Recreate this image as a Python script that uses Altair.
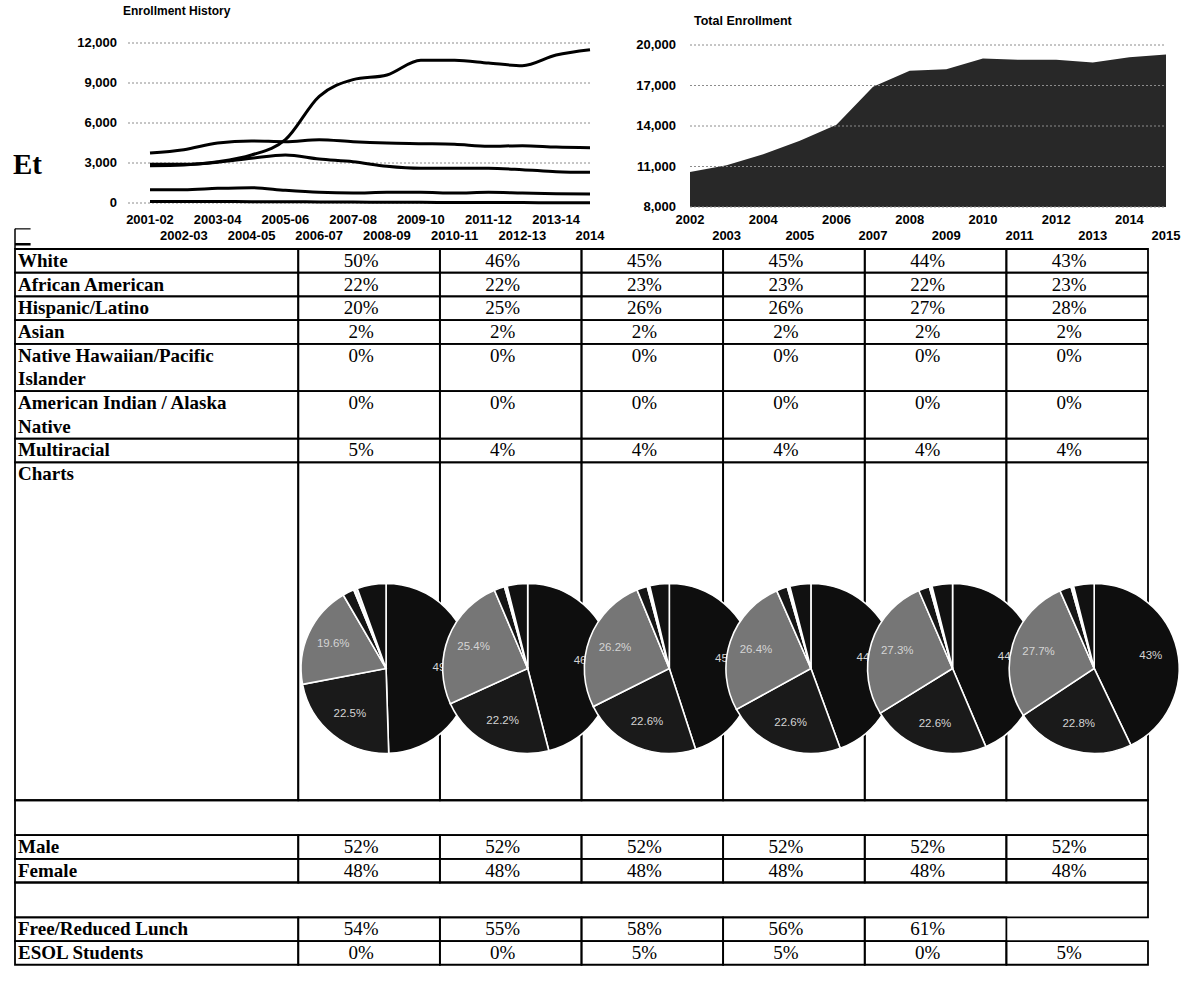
import altair as alt
import pandas as pd

# ------------------------------------------------------------------ data
hist_years = ["2001-02", "2002-03", "2003-04", "2004-05", "2005-06", "2006-07",
              "2007-08", "2008-09", "2009-10", "2010-11", "2011-12", "2012-13",
              "2013-14", "2014"]
hist_series_a = [2900, 2900, 3100, 3600, 4750, 8000, 9250, 9600, 10700, 10700, 10500, 10300, 11100, 11500]
hist_series_b = [3750, 4000, 4500, 4650, 4600, 4750, 4600, 4500, 4450, 4400, 4250, 4300, 4200, 4150]
hist_series_c = [2800, 2850, 3050, 3350, 3600, 3300, 3100, 2750, 2600, 2600, 2600, 2500, 2350, 2300]
hist_series_d = [1000, 1000, 1100, 1150, 950, 800, 750, 800, 800, 750, 800, 750, 700, 680]
hist_series_e = [120, 110, 110, 100, 100, 80, 70, 60, 50, 40, 30, 30, 20, 20]
hist_ticks = [0, 3000, 6000, 9000, 12000]

total_years = [2002, 2003, 2004, 2005, 2006, 2007, 2008, 2009, 2010, 2011, 2012, 2013, 2014, 2015]
total_enrollment = [10600, 11100, 11900, 12900, 14100, 16900, 18100, 18200, 19000, 18900, 18900, 18700, 19100, 19300]
total_ticks = [8000, 11000, 14000, 17000, 20000]

eth_labels = ["White", "African American", "Hispanic/Latino", "Asian",
              "Native Hawaiian/Pacific\nIslander", "American Indian / Alaska\nNative", "Multiracial"]
white_pct = ["50%", "46%", "45%", "45%", "44%", "43%"]
afam_pct = ["22%", "22%", "23%", "23%", "22%", "23%"]
hisp_pct = ["20%", "25%", "26%", "26%", "27%", "28%"]
asian_pct = ["2%", "2%", "2%", "2%", "2%", "2%"]
nhpi_pct = ["0%", "0%", "0%", "0%", "0%", "0%"]
aian_pct = ["0%", "0%", "0%", "0%", "0%", "0%"]
multi_pct = ["5%", "4%", "4%", "4%", "4%", "4%"]
male_pct = ["52%", "52%", "52%", "52%", "52%", "52%"]
female_pct = ["48%", "48%", "48%", "48%", "48%", "48%"]
lunch_pct = ["54%", "55%", "58%", "56%", "61%", ""]
esol_pct = ["0%", "0%", "5%", "5%", "0%", "5%"]

pie_groups = ["White", "African American", "Hispanic/Latino", "Asian",
              "Native Hawaiian/Pacific Islander", "American Indian / Alaska Native", "Multiracial"]
pie_col1 = [49.5, 22.5, 19.6, 2.2, 0.2, 0.5, 5.5]
pie_col2 = [46.0, 22.2, 25.4, 2.0, 0.2, 0.3, 3.9]
pie_col3 = [45.0, 22.6, 26.2, 2.0, 0.2, 0.3, 3.7]
pie_col4 = [44.4, 22.6, 26.4, 2.1, 0.2, 0.3, 4.0]
pie_col5 = [43.6, 22.6, 27.3, 2.1, 0.2, 0.3, 3.9]
pie_col6 = [42.9, 22.8, 27.7, 2.2, 0.2, 0.3, 3.9]
pie_white_labels = ["49%", "46%", "45%", "44%", "44%", "43%"]
pie_afam_labels = ["22.5%", "22.2%", "22.6%", "22.6%", "22.6%", "22.8%"]
pie_hisp_labels = ["19.6%", "25.4%", "26.2%", "26.4%", "27.3%", "27.7%"]

# ------------------------------------------------------------------ layout / style
W, H = 1187, 1000
SANS, SERIF = "Liberation Sans", "Liberation Serif"

H1_XR = [150, 590]
H1_YR = [203, 43]
H1_GRID = (128, 590)
H1_LABEL_X = 117
ROW1_Y, ROW2_Y = 220, 236

T_XR = [690, 1166]
T_YR = [207, 45]
T_LABEL_X = 676

TAB_XR = [15, 1148]      # label column = 2 units, each year column = 1 unit
TAB_TOP = 249
UNIT = 23.7
CHARTS_H = 14.26
BLANK_H = 1.47
PIE_R = 85
PIE_DX = 0.62            # pie centre inside its column (units)
PIE_DY = 0.61            # pie centre inside the charts row (fraction)
TAB_FONT = 19
pie_colors = ["#0e0e0e", "#1a1a1a", "#767676", "#151515", "#e6e6e6", "#e6e6e6", "#111111"]

TXT = dict(font=SANS, fontSize=13, fontWeight="bold", color="black")
GRID = dict(stroke="#8c8c8c", strokeDash=[2, 2], strokeWidth=1)


def lin(domain, rng):
    return alt.Scale(domain=domain, range=rng, nice=False, zero=False)


layers = []

# ------------------------------------------------------------------ Enrollment History
hx = alt.Scale(type="point", domain=hist_years, range=H1_XR, padding=0)
hy = lin([0, 12000], H1_YR)
hist_df = pd.DataFrame({
    "year": hist_years * 5,
    "series": sum([[s] * len(hist_years) for s in "abcde"], []),
    "value": hist_series_a + hist_series_b + hist_series_c + hist_series_d + hist_series_e,
})
tick1 = pd.DataFrame({"tick": hist_ticks})
layers.append(alt.Chart(tick1).mark_rule(**GRID).encode(
    x=alt.value(H1_GRID[0]), x2=alt.value(H1_GRID[1]),
    y=alt.Y("tick:Q", scale=hy, axis=None)))
layers.append(alt.Chart(tick1).mark_text(align="right", baseline="middle", **TXT).encode(
    x=alt.value(H1_LABEL_X), y=alt.Y("tick:Q", scale=hy, axis=None),
    text=alt.Text("tick:Q", format=",")))
layers.append(alt.Chart(hist_df).mark_line(color="black", strokeWidth=3, interpolate="monotone").encode(
    x=alt.X("year:O", scale=hx, axis=None),
    y=alt.Y("value:Q", scale=hy, axis=None),
    detail="series:N"))
yr1 = pd.DataFrame({"year": hist_years, "row": [i % 2 for i in range(len(hist_years))]})
for r, ypos in ((0, ROW1_Y), (1, ROW2_Y)):
    layers.append(alt.Chart(yr1).transform_filter(alt.datum.row == r).mark_text(
        align="center", baseline="middle", **TXT).encode(
        x=alt.X("year:O", scale=hx, axis=None), y=alt.value(ypos), text="year:N"))
layers.append(alt.Chart(pd.DataFrame({"t": ["Enrollment History"]})).mark_text(
    align="left", baseline="middle", font=SANS, fontSize=12, fontWeight="bold").encode(
    x=alt.value(123), y=alt.value(11), text="t:N"))
layers.append(alt.Chart(pd.DataFrame({"t": ["Et"]})).mark_text(
    align="left", baseline="middle", font=SERIF, fontSize=29, fontWeight="bold").encode(
    x=alt.value(13), y=alt.value(165), text="t:N"))

# ------------------------------------------------------------------ Total Enrollment
tx = lin([2002, 2015], T_XR)
ty = lin([8000, 20000], T_YR)
tot_df = pd.DataFrame({"year": total_years, "enroll": total_enrollment})
layers.append(alt.Chart(tot_df).mark_area(color="#282828").encode(
    x=alt.X("year:Q", scale=tx, axis=None),
    y=alt.Y("enroll:Q", scale=ty, axis=None),
    y2=alt.datum(8000)))
tick2 = pd.DataFrame({"tick": total_ticks})
layers.append(alt.Chart(tick2).mark_rule(**GRID).encode(
    x=alt.value(T_XR[0]), x2=alt.value(T_XR[1]),
    y=alt.Y("tick:Q", scale=ty, axis=None)))
layers.append(alt.Chart(tick2).mark_text(align="right", baseline="middle", **TXT).encode(
    x=alt.value(T_LABEL_X), y=alt.Y("tick:Q", scale=ty, axis=None),
    text=alt.Text("tick:Q", format=",")))
yr2 = pd.DataFrame({"year": total_years, "row": [i % 2 for i in range(len(total_years))]})
for r, ypos in ((0, ROW1_Y), (1, ROW2_Y)):
    layers.append(alt.Chart(yr2).transform_filter(alt.datum.row == r).mark_text(
        align="center", baseline="middle", **TXT).encode(
        x=alt.X("year:Q", scale=tx, axis=None), y=alt.value(ypos), text=alt.Text("year:Q", format="d")))
layers.append(alt.Chart(pd.DataFrame({"t": ["Total Enrollment"]})).mark_text(
    align="left", baseline="middle", font=SANS, fontSize=12.5, fontWeight="bold").encode(
    x=alt.value(694), y=alt.value(21), text="t:N"))

# ------------------------------------------------------------------ table
eth_values = [white_pct, afam_pct, hisp_pct, asian_pct, nhpi_pct, aian_pct, multi_pct]
rows = [("data", lab.split("\n"), vals) for lab, vals in zip(eth_labels, eth_values)]
rows += [("charts", ["Charts"], None), ("blank", [], None),
         ("data", ["Male"], male_pct), ("data", ["Female"], female_pct),
         ("blank", [], None),
         ("data", ["Free/Reduced Lunch"], lunch_pct), ("data", ["ESOL Students"], esol_pct)]

cells, labels, values = [], [], []
y = 0.0
charts_top = charts_h = 0.0
for kind, lines, vals in rows:
    h = len(lines) if kind == "data" else (CHARTS_H if kind == "charts" else BLANK_H)
    if kind == "blank":
        cells.append(dict(x0=0, x1=8, y0=y, y1=y + h))
    else:
        cells.append(dict(x0=0, x1=2, y0=y, y1=y + h))
        for i in range(6):
            if vals is not None and vals[i] == "":
                continue
            cells.append(dict(x0=2 + i, x1=3 + i, y0=y, y1=y + h))
        for k, ln in enumerate(lines):
            labels.append(dict(t=ln, x=0, y=y + k + 0.5))
        if vals is not None:
            for i, v in enumerate(vals):
                values.append(dict(t=v, x=2 + i + 0.5, y=y + 0.5))
    if kind == "charts":
        charts_top, charts_h = y, h
    y += h
total_units = y

tabx = lin([0, 8], TAB_XR)
taby = lin([0, total_units], [TAB_TOP, TAB_TOP + total_units * UNIT])
X = lambda f: alt.X(f, scale=tabx, axis=None)
Y = lambda f: alt.Y(f, scale=taby, axis=None)

# bracket mark above the table (scan artefact of the page)
bracket = pd.DataFrame({"x0": [0, 0, 0], "x1": [0, 0.11, 0.11], "y0": [-0.85, -0.85, -0.2],
                        "y1": [0, -0.85, -0.2], "w": [1.5, 1.2, 2.5]})
layers.append(alt.Chart(bracket).mark_rule(color="black").encode(
    x=X("x0:Q"), x2="x1:Q", y=Y("y0:Q"), y2="y1:Q",
    strokeWidth=alt.StrokeWidth("w:Q", scale=None)))

layers.append(alt.Chart(pd.DataFrame(cells)).mark_rect(
    fill="white", fillOpacity=0, stroke="black", strokeWidth=1.8).encode(
    x=X("x0:Q"), x2="x1:Q", y=Y("y0:Q"), y2="y1:Q"))
layers.append(alt.Chart(pd.DataFrame(labels)).mark_text(
    align="left", baseline="middle", dx=3, font=SERIF, fontSize=TAB_FONT, fontWeight="bold", color="black").encode(
    x=X("x:Q"), y=Y("y:Q"), text="t:N"))
layers.append(alt.Chart(pd.DataFrame(values)).mark_text(
    align="center", baseline="middle", dx=-8, font=SERIF, fontSize=TAB_FONT, color="black").encode(
    x=X("x:Q"), y=Y("y:Q"), text="t:N"))

# ------------------------------------------------------------------ pies
pie_cols = [pie_col1, pie_col2, pie_col3, pie_col4, pie_col5, pie_col6]
for i, shares in enumerate(pie_cols):
    lab = [pie_white_labels[i], pie_afam_labels[i], pie_hisp_labels[i], "", "", "", ""]
    pdf = pd.DataFrame({"group": pie_groups, "value": shares, "idx": list(range(7)), "label": lab,
                        "cx": 2 + i + PIE_DX, "cy": charts_top + PIE_DY * charts_h})
    base = alt.Chart(pdf).encode(
        x=X("cx:Q"), y=Y("cy:Q"),
        theta=alt.Theta("value:Q", stack=True),
        order=alt.Order("idx:Q"))
    layers.append(base.mark_arc(outerRadius=PIE_R, stroke="white", strokeWidth=1.6).encode(
        color=alt.Color("group:N", scale=alt.Scale(domain=pie_groups, range=pie_colors), legend=None)))
    layers.append(base.mark_text(radius=58, font=SANS, fontSize=11.5, color="#d4d4d4").encode(
        text="label:N", detail="group:N"))

chart = alt.layer(*layers).resolve_scale(
    x="independent", y="independent", theta="independent", color="independent"
).properties(
    width=W, height=H, padding=0, autosize=alt.AutoSizeParams(type="none")
).configure(background="white").configure_view(strokeWidth=0)

chart.save("out.html", embed_options={"renderer": "svg", "actions": False})
